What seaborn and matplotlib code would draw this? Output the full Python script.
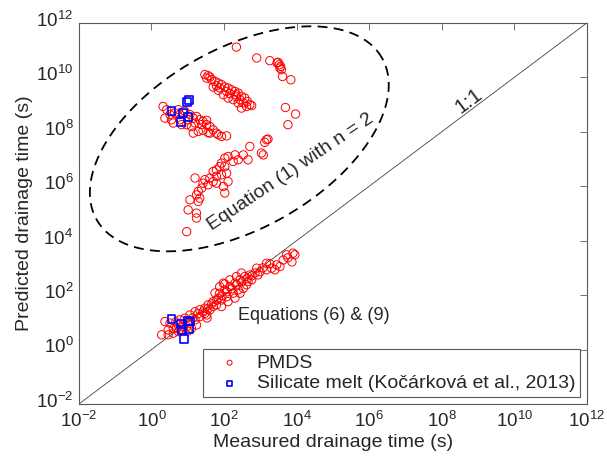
import numpy as np
import pandas as pd
import seaborn as sns
import matplotlib.pyplot as plt
from matplotlib.ticker import NullLocator
from matplotlib.transforms import ScaledTranslation

# log10 of measured / predicted drainage time (s)
# PMDS, Equation (1) with n = 2 (upper group)
pmds_eq1_meas = [2.34,
                 1.47, 1.52, 1.61, 1.66, 1.75, 1.84, 1.93, 2.02, 2.11, 2.21, 2.30, 2.39, 2.48, 2.57, 2.64, 2.71,
                 2.48, 2.39, 2.25, 2.11, 1.98, 1.84, 1.70, 2.53, 2.62, 2.76, 2.33, 2.16, 2.07, 1.88, 1.79, 1.56,
                 2.44, 2.34,
                 0.32, 0.42, 0.37, 0.55, 0.64, 0.78, 0.74, 0.92, 1.06, 1.15, 1.24, 1.33, 1.42, 1.52, 1.61, 1.70,
                 1.79, 1.93, 2.07, 1.15, 1.29, 1.42, 1.56, 1.38, 1.20, 1.10, 0.97, 0.78, 0.60, 0.51, 0.83, 1.01,
                 1.52, 1.84, 1.61,
                 2.90, 3.26, 3.46, 3.52, 3.54, 3.58, 3.61, 3.84, 3.49, 3.56,
                 3.69, 3.97, 3.76,
                 3.17, 3.12, 2.71, 3.03, 3.08, 2.66, 2.53, 2.30, 2.11, 2.02, 1.93, 1.88, 1.79, 1.70, 2.02, 2.07,
                 1.93, 1.79, 1.61, 1.47, 1.42, 1.56, 1.38, 1.29, 1.24, 1.33, 1.29, 1.06, 1.01, 1.24, 1.24, 0.97,
                 1.20, 2.11, 1.98, 2.02, 2.25, 2.39, 1.70, 1.79, 3.21]
pmds_eq1_pred = [11.11,
                 10.10, 9.97, 10.01, 9.91, 9.85, 9.79, 9.73, 9.64, 9.61, 9.54, 9.48, 9.42, 9.30, 9.24, 9.11, 8.99,
                 8.87, 9.06, 9.18, 9.24, 9.36, 9.52, 9.64, 9.06, 8.93, 8.96, 9.36, 9.40, 9.48, 9.61, 9.69, 10.06,
                 9.18, 9.28,
                 8.93, 8.81, 8.50, 8.44, 8.69, 8.63, 8.81, 8.75, 8.63, 8.50, 8.56, 8.44, 8.38, 8.26, 8.19, 8.07,
                 7.95, 7.83, 7.85, 7.95, 8.01, 8.05, 7.97, 8.26, 8.32, 8.19, 8.26, 8.44, 8.32, 8.63, 8.26, 8.44,
                 8.42, 7.89, 7.95,
                 10.71, 10.61, 10.53, 10.46, 10.34, 10.28, 10.03, 9.91, 10.55, 10.40,
                 8.89, 8.65, 8.26,
                 7.71, 7.61, 7.46, 7.22, 7.15, 6.97, 7.15, 7.15, 7.09, 7.03, 6.85, 6.72, 6.60, 6.54, 6.72, 6.48,
                 6.42, 6.36, 6.30, 6.24, 6.11, 6.05, 5.93, 5.81, 5.68, 5.56, 5.44, 5.50, 5.13, 5.01, 4.83, 4.33,
                 6.30, 6.17, 5.99, 5.75, 6.91, 6.97, 6.17, 6.11, 7.73]

# PMDS, Equations (6) & (9) (lower group)
pmds_eq69_meas = [0.28, 0.37, 0.51, 0.60, 0.74, 0.78, 0.92, 1.06, 1.20, 1.33, 1.47, 1.56, 1.70, 1.84, 1.88, 2.02,
                  2.16, 2.30, 2.44, 2.57, 2.71, 2.85, 2.99, 3.17, 3.31, 3.45, 3.63, 3.72, 3.90, 3.95, 3.54, 3.40,
                  3.17, 2.90, 2.66, 2.76, 2.53, 2.39, 2.25, 2.07, 1.93, 1.79, 1.61, 1.47, 1.33, 1.20, 1.06, 0.97,
                  0.87, 0.74, 0.60, 0.46, 2.16, 2.34, 2.48, 1.88, 1.98, 1.70, 1.52, 1.24, 1.10, 0.83, 0.69, 0.46,
                  2.62, 2.44, 2.30, 2.11, 1.93,
                  1.28, 1.42, 1.55, 1.66, 1.80, 1.94, 2.08, 2.21, 2.35, 2.49, 2.63, 2.77, 2.93, 3.07, 3.26, 3.76,
                  3.87, 1.75, 2.02, 1.53, 1.14, 1.00, 0.67]
pmds_eq69_pred = [0.54, 1.03, 0.97, 0.78, 0.90, 1.09, 1.15, 1.27, 1.39, 1.46, 1.52, 1.64, 1.76, 1.89, 2.07, 2.19,
                  2.31, 2.44, 2.56, 2.68, 2.74, 2.81, 2.86, 2.93, 2.99, 3.11, 3.29, 3.48, 3.54, 3.48, 3.05, 2.93,
                  3.17, 2.99, 2.50, 2.56, 2.25, 2.19, 2.07, 1.94, 1.82, 1.64, 1.46, 1.33, 1.21, 1.09, 0.97, 0.84,
                  0.72, 0.66, 0.60, 0.54, 2.56, 2.68, 2.81, 2.31, 2.44, 1.58, 1.27, 0.90, 0.78, 0.84, 0.78, 0.72,
                  2.38, 2.07, 1.89, 1.76, 1.58,
                  1.31, 1.38, 1.49, 1.68, 1.82, 1.97, 2.12, 2.23, 2.38, 2.49, 2.60, 2.71, 2.74, 3.00, 3.15, 3.37,
                  3.22, 2.08, 2.41, 1.16, 1.16, 0.68, 1.01]

# Silicate melt (Kocarkova et al., 2013)
melt_meas = [0.55, 0.97, 1.04, 0.87, 1.01, 0.81,
             0.55, 0.81, 1.01, 1.03, 0.89, 0.83, 1.06]
melt_pred = [8.77, 9.08, 9.18, 8.69, 8.54, 8.36,
             1.13, 0.93, 1.06, 0.75, 0.40, 0.72, 1.03]

axis_range = [1e-2, 1e12]
tick_exponents = [-2, 0, 2, 4, 6, 8, 10, 12]

pmds = pd.DataFrame({
    "measured": 10 ** np.array(pmds_eq1_meas + pmds_eq69_meas),
    "predicted": 10 ** np.array(pmds_eq1_pred + pmds_eq69_pred),
})
melt = pd.DataFrame({"measured": 10 ** np.array(melt_meas),
                     "predicted": 10 ** np.array(melt_pred)})

sns.set_style("white")
plt.rcParams["font.family"] = ["Liberation Sans", "DejaVu Sans"]
plt.rcParams["mathtext.fontset"] = "custom"
plt.rcParams["mathtext.rm"] = "Liberation Sans"
plt.rcParams["mathtext.it"] = "Liberation Sans:italic"

fig = plt.figure(figsize=(6.07, 4.57), dpi=100)
ax = fig.add_axes([0.130, 0.116, 0.837, 0.834])
ax.set_xscale("log")
ax.set_yscale("log")
ax.set_xlim(axis_range)
ax.set_ylim(axis_range)

# 1:1 line
ax.plot(axis_range, axis_range, color="0.25", lw=0.6, zorder=1)

sns.scatterplot(data=pmds, x="measured", y="predicted", marker="o", s=36,
                fc="none", ec="red", linewidth=0.7, label="PMDS", ax=ax, zorder=3)
sns.scatterplot(data=melt, x="measured", y="predicted", marker="s", s=32,
                fc="none", ec="blue", linewidth=1.2,
                label="Silicate melt (Kočárková et al., 2013)", ax=ax, zorder=4)

# dashed ellipse around the Equation (1) results, built in screen proportions
bbox = ax.get_position()
px_dec_x = bbox.width * fig.get_figwidth() * fig.dpi / 14
px_dec_y = bbox.height * fig.get_figheight() * fig.dpi / 14
ell_cx, ell_cy = 2.42, 7.74          # centre, log10 units
ell_a, ell_b, ell_ang = 164, 90, np.radians(29.5)  # semi-axes (px), tilt
t = np.linspace(0, 2 * np.pi, 300)
ex = ell_a * np.cos(t) * np.cos(ell_ang) - ell_b * np.sin(t) * np.sin(ell_ang)
ey = ell_a * np.cos(t) * np.sin(ell_ang) + ell_b * np.sin(t) * np.cos(ell_ang)
ax.plot(10 ** (ell_cx + ex / px_dec_x), 10 ** (ell_cy + ey / px_dec_y),
        color="black", lw=1.3, linestyle=(0, (5.5, 3.5)), zorder=2)

rot = np.degrees(np.arctan(px_dec_y / px_dec_x))
ax.text(10 ** 8.75, 10 ** 9.12, "1:1", fontsize=15, rotation=rot,
        ha="center", va="center")
ax.text(10 ** 3.84, 10 ** 6.53, "Equation (1) with n = 2", fontsize=14,
        rotation=34, ha="center", va="center")
ax.text(10 ** 2.38, 10 ** 1.24, "Equations (6) & (9)", fontsize=13,
        ha="left", va="center")

ticks = [10.0 ** e for e in tick_exponents]
ax.set_xticks(ticks)
ax.set_yticks(ticks)
ax.xaxis.set_minor_locator(NullLocator())
ax.yaxis.set_minor_locator(NullLocator())
ax.tick_params(which="both", direction="in", top=True, right=True, length=5,
               width=0.6, color="0.35", labelsize=13.5)
ax.tick_params(axis="x", pad=5)
ax.tick_params(axis="y", pad=4)
# lift the y tick labels so the digits sit on the tick, MATLAB style
for lab in ax.get_yticklabels():
    lab.set_transform(lab.get_transform() + ScaledTranslation(0, 3 / 72, fig.dpi_scale_trans))
for sp in ax.spines.values():
    sp.set_color("0.35")
    sp.set_linewidth(0.8)

ax.set_xlabel("Measured drainage time (s)", fontsize=14, labelpad=2)
ax.set_ylabel("Predicted drainage time (s)", fontsize=14, labelpad=2)

leg = ax.legend(loc="lower right", fontsize=14, markerscale=0.6, frameon=True,
                fancybox=False, framealpha=1, edgecolor="0.35",
                borderaxespad=0.35, borderpad=0.25, labelspacing=0.15,
                handlelength=2.2, handletextpad=0.3)
leg.get_frame().set_linewidth(0.8)

fig.savefig("out.png", dpi=100)
